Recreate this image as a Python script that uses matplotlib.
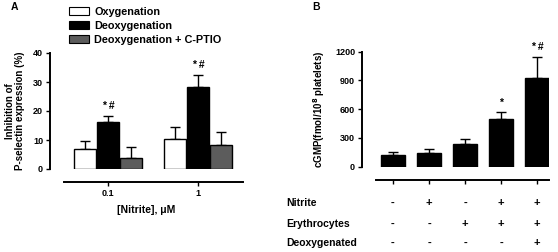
import numpy as np
import matplotlib
matplotlib.use('Agg')
import matplotlib.pyplot as plt
from matplotlib.patches import Patch
import matplotlib.transforms as mtransforms

plt.rcParams['font.family'] = ['Liberation Sans', 'DejaVu Sans']
plt.rcParams['font.weight'] = 'bold'

# Panel A data
nitrite_levels = ['0.1', '1']
series_names = ['Oxygenation', 'Deoxygenation', 'Deoxygenation + C-PTIO']
oxy_mean = [7.0, 10.5]
oxy_err = [2.7, 4.1]
deoxy_mean = [16.1, 28.4]
deoxy_err = [2.2, 4.0]
cptio_mean = [3.9, 8.2]
cptio_err = [3.6, 4.7]
deoxy_marks = ['* #', '* #']

# Panel B data
cgmp_mean = [120, 140, 237, 498, 923]
cgmp_err = [37, 41, 52, 70, 219]
cgmp_marks = ['', '', '', '*', '* #']
row_labels = ['Nitrite', 'Erythrocytes', 'Deoxygenated']
row_signs = [['-', '+', '-', '+', '+'],
             ['-', '-', '+', '+', '+'],
             ['-', '-', '-', '-', '+']]

W, H = 558, 252
fig = plt.figure(figsize=(W / 100, H / 100), dpi=100)

def fx(px):
    return px / W

def fy(py):
    return 1 - py / H

# ---- Panel A ----
axA = fig.add_axes([fx(50), fy(169), fx(243 - 50), fy(53) - fy(169)])
x = np.arange(len(nitrite_levels))
w = 0.235
off = 0.255
colors = ['white', 'black', '#5c5c5c']
means = [oxy_mean, deoxy_mean, cptio_mean]
errs = [oxy_err, deoxy_err, cptio_err]
for i in range(3):
    xs = x + (i - 1) * off
    axA.bar(xs, means[i], w, color=colors[i], edgecolor='black', linewidth=1.0, zorder=2)
    axA.errorbar(xs, means[i], yerr=[np.zeros(len(xs)), errs[i]], fmt='none',
                 ecolor='black', elinewidth=1.0, capsize=3.5, capthick=1.0, zorder=1)
for xi, m, e, t in zip(x, deoxy_mean, deoxy_err, deoxy_marks):
    axA.text(xi, m + e + 1.8, t, ha='center', va='bottom', fontsize=7.5, fontweight='bold')

axA.set_xlim(-0.644, 1.5)
axA.set_ylim(0, 40)
axA.set_yticks([0, 10, 20, 30, 40])
axA.set_xticks(x)
axA.set_xticklabels(nitrite_levels)
for s in ['top', 'right']:
    axA.spines[s].set_visible(False)
axA.spines['left'].set_bounds(0, 40)
axA.spines['bottom'].set_position(('outward', 9.5))
axA.spines['bottom'].set_bounds(-0.489, 1.5)
for s in ['left', 'bottom']:
    axA.spines[s].set_linewidth(1.4)
axA.tick_params(axis='both', labelsize=6.5, width=1.0, length=3, pad=2)
axA.set_xlabel('[Nitrite], \u03bcM', fontsize=7.5, fontweight='bold', labelpad=5)
axA.set_ylabel('Inhibition of\nP-selectin expression (%)', fontsize=7,
               fontweight='bold', labelpad=6, linespacing=1.0)

handles = [Patch(facecolor=c, edgecolor='black', linewidth=0.8) for c in colors]
fig.legend(handles, series_names, loc='upper left', bbox_to_anchor=(fx(59), fy(-3)),
           frameon=False, handlelength=1.9, handleheight=0.8,
           handletextpad=0.45, labelspacing=0.38, prop={'weight': 'bold', 'size': 7.8})

fig.text(fx(14), fy(7), 'A', fontsize=7.5, fontweight='bold', ha='center', va='center')

# ---- Panel B ----
axB = fig.add_axes([fx(362), fy(166.7), fx(549 - 362), fy(51.7) - fy(166.7)])
xb = np.arange(len(cgmp_mean))
axB.bar(xb, cgmp_mean, 0.67, color='black', edgecolor='black', linewidth=1.0, zorder=2)
axB.errorbar(xb, cgmp_mean, yerr=[np.zeros(len(xb)), cgmp_err], fmt='none',
             ecolor='black', elinewidth=1.0, capsize=3.5, capthick=1.0, zorder=1)
for xi, m, e, t in zip(xb, cgmp_mean, cgmp_err, cgmp_marks):
    if t:
        axB.text(xi, m + e + 50, t, ha='center', va='bottom', fontsize=7.5, fontweight='bold')

axB.set_xlim(-0.86, 4.33)
axB.set_ylim(0, 1200)
axB.set_yticks([0, 300, 600, 900, 1200])
axB.set_xticks(xb)
axB.set_xticklabels([])
for s in ['top', 'right']:
    axB.spines[s].set_visible(False)
axB.spines['left'].set_bounds(0, 1200)
axB.spines['bottom'].set_position(('outward', 9.5))
axB.spines['bottom'].set_bounds(-0.47, 4.33)
for s in ['left', 'bottom']:
    axB.spines[s].set_linewidth(1.4)
axB.tick_params(axis='both', labelsize=6.5, width=1.0, length=3, pad=2)
axB.set_ylabel('cGMP(fmol/10$^8$ platelets)', fontsize=7, fontweight='bold', labelpad=6)

fig.text(fx(316), fy(7), 'B', fontsize=7.5, fontweight='bold', ha='center', va='center')

trans = mtransforms.blended_transform_factory(axB.transData, fig.transFigure)
row_y = [203, 224, 243]
for lab, signs, py in zip(row_labels, row_signs, row_y):
    fig.text(fx(286), fy(py), lab, fontsize=7.5, fontweight='bold', ha='left', va='center')
    for xi, sgn in zip(xb, signs):
        axB.text(xi, fy(py), sgn, transform=trans, fontsize=8, fontweight='bold',
                 ha='center', va='center')

fig.savefig('out.png', dpi=100)
